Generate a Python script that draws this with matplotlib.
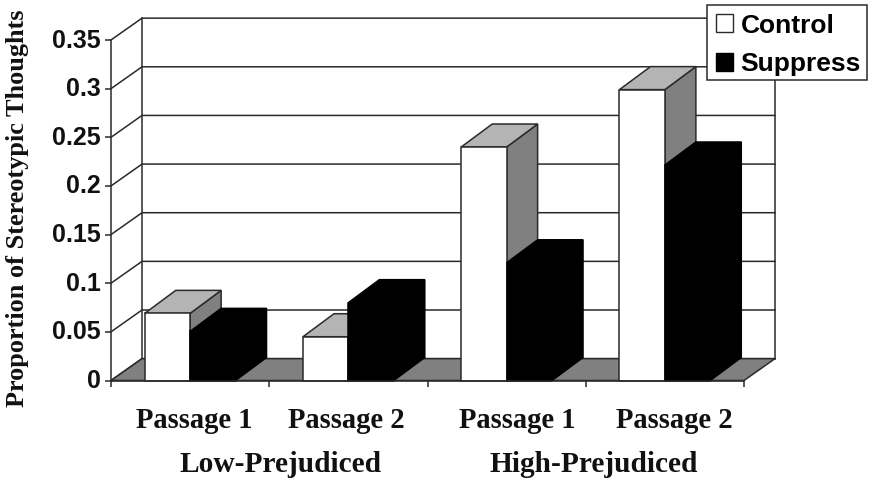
#!/usr/bin/env python3
import matplotlib
matplotlib.use("Agg")
import matplotlib.pyplot as plt
from matplotlib.patches import Patch, Polygon, Rectangle
from matplotlib.transforms import ScaledTranslation

passages = ["Passage 1", "Passage 2", "Passage 1", "Passage 2"]
groups = ["Low-Prejudiced", "High-Prejudiced"]
control = [0.069, 0.045, 0.240, 0.299]
suppress = [0.0505, 0.080, 0.121, 0.2215]
y_ticks = [0, 0.05, 0.1, 0.15, 0.2, 0.25, 0.3, 0.35]
y_labels = ["0", "0.05", "0.1", "0.15", "0.2", "0.25", "0.3", "0.35"]

W, H = 872, 484
# depth offset of the fake 3d box, in data units
DX = 31 / 158.25
DY = 23 / 972.8
BAR_W = 45.4 / 158.25
LINE = "#2a2a2a"
SIDE = "#808080"
TOP = "#b4b4b4"


def px(x, y):
    return x / W, 1 - y / H


def poly(ax, pts, face, edge=LINE, lw=1.1, z=2):
    ax.add_patch(Polygon(pts, closed=True, facecolor=face, edgecolor=edge,
                         linewidth=lw, clip_on=False, zorder=z, joinstyle="miter"))


def bar3d(ax, x, v, face, edge):
    poly(ax, [(x + BAR_W, 0), (x + BAR_W + DX, DY), (x + BAR_W + DX, v + DY), (x + BAR_W, v)],
         SIDE if face == "white" else face, edge if face != "white" else LINE, z=3)
    poly(ax, [(x, v), (x + DX, v + DY), (x + BAR_W + DX, v + DY), (x + BAR_W, v)],
         TOP if face == "white" else face, edge if face != "white" else LINE, z=3)
    poly(ax, [(x, 0), (x + BAR_W, 0), (x + BAR_W, v), (x, v)], face, edge, z=3)


plt.rcParams["font.family"] = "Liberation Sans"
fig = plt.figure(figsize=(W / 100, H / 100), dpi=100)
ax = fig.add_axes([111 / W, (H - 380.5) / H, 633 / W, 340.5 / H])
ax.set_xlim(0, 4)
ax.set_ylim(0, 0.35)
ax.patch.set_alpha(0)
for s in ["top", "right"]:
    ax.spines[s].set_visible(False)
for s in ["left", "bottom"]:
    ax.spines[s].set_color(LINE)
    ax.spines[s].set_linewidth(1.1)
    ax.spines[s].set_zorder(5)

ax.set_yticks(y_ticks)
ax.set_yticklabels(y_labels, fontsize=18, fontweight="bold", color="#111111")
ax.set_xticks(range(5))
ax.set_xticklabels([])
ax.tick_params(axis="both", direction="out", length=4, width=1.1, color=LINE, pad=3.5)
# labels sit a touch above their ticks in the original
for lab in ax.get_yticklabels():
    lab.set_transform(lab.get_transform() + ScaledTranslation(0, 2 / 100, fig.dpi_scale_trans))

# back wall, grid lines, side wall diagonals, floor
for t in y_ticks:
    ax.plot([0, DX, 4 + DX], [t, t + DY * 0.95, t + DY * 0.95], color=LINE, lw=1.1,
            clip_on=False, zorder=1)
ax.plot([DX, DX], [DY * 0.95, 0.35 + DY * 0.95], color=LINE, lw=1.1, clip_on=False, zorder=1)
ax.plot([4 + DX, 4 + DX], [DY * 0.95, 0.35 + DY * 0.95], color=LINE, lw=1.1, clip_on=False, zorder=1)
poly(ax, [(0, 0), (DX, DY * 0.95), (4 + DX, DY * 0.95), (4, 0)], SIDE, z=2)

for i in range(4):
    x0 = i + 0.5 - BAR_W
    bar3d(ax, x0, control[i], "white", LINE)
    bar3d(ax, x0 + BAR_W, suppress[i], "black", "black")

# legend box is drawn apart: its height is tighter than borderpad allows
fig.add_artist(Rectangle(px(707, 80), 160 / W, 75 / H, transform=fig.transFigure, facecolor="white",
                         edgecolor=LINE, linewidth=1.1, zorder=9))
leg = fig.legend(
    handles=[Patch(facecolor="white", edgecolor=LINE, label="Control"),
             Patch(facecolor="black", edgecolor="black", label="Suppress")],
    loc="upper left", bbox_to_anchor=px(705, 3), bbox_transform=fig.transFigure,
    frameon=False, borderaxespad=0, borderpad=0.4,
    handlelength=0.65, handleheight=0.65, handletextpad=0.3, labelspacing=0.55,
    prop={"family": "Liberation Sans", "weight": "bold", "size": 19},
)
leg.set_zorder(10)

serif = {"family": "Liberation Serif", "weight": "bold", "color": "#111111"}
for cx, lab in zip([194, 346, 517, 674], passages):
    fig.text(*px(cx, 420), lab, ha="center", va="center", fontsize=20.6, **serif)
for cx, lab in zip([281, 594], groups):
    fig.text(*px(cx, 465), lab, ha="center", va="center", fontsize=21.2, **serif)
fig.text(*px(18, 208), "Proportion of Stereotypic Thoughts", rotation=90, ha="center",
         va="center", fontsize=18.9, **serif)

fig.savefig("out.png", dpi=100)
